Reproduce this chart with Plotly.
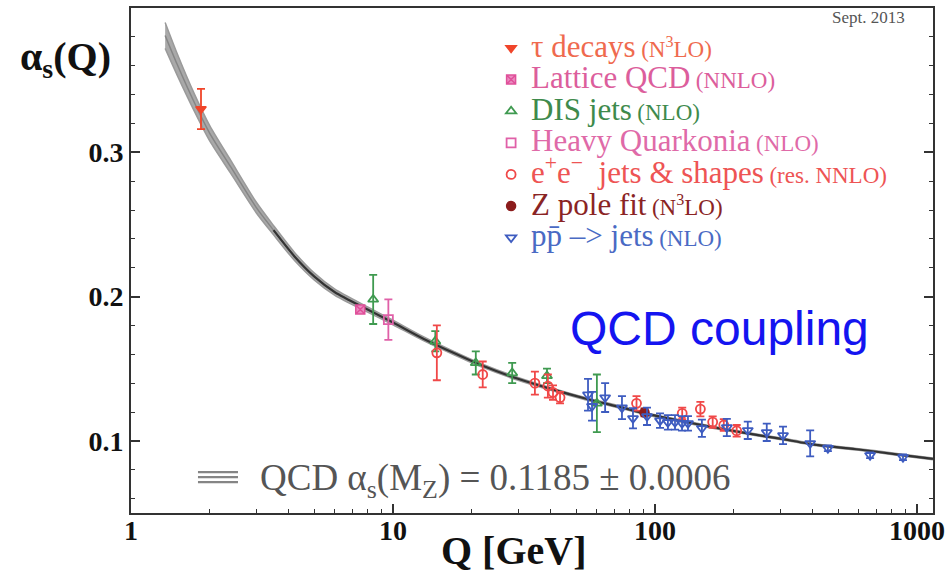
import plotly.graph_objects as go

# QCD running coupling: centre line and the edges of its uncertainty band
curve_q = [1.35, 1.5, 1.75, 2.0, 2.4, 3.0, 3.5, 4.2, 5.0, 6.0, 8.0, 10, 13, 17, 22, 30,
           40, 55, 75, 91.2, 120, 160, 220, 300, 420, 600, 850, 1150]
curve_mid = [0.381, 0.361, 0.334, 0.313, 0.290, 0.262, 0.246, 0.228, 0.214, 0.203, 0.191,
             0.182, 0.171, 0.161, 0.152, 0.143, 0.136, 0.129, 0.123, 0.119, 0.1145, 0.110,
             0.1055, 0.1015, 0.0970, 0.0940, 0.0905, 0.0875]
curve_hi = [0.390, 0.3685, 0.340, 0.3183, 0.2945, 0.2657, 0.2492, 0.2308, 0.2164, 0.2051,
            0.1928, 0.1836, 0.1724, 0.1622, 0.1531, 0.1440, 0.1369, 0.1298, 0.1238, 0.1197,
            0.1152, 0.1107, 0.1061, 0.1021, 0.0976, 0.0946, 0.0911, 0.0881]
curve_lo = [0.372, 0.3535, 0.328, 0.3077, 0.2855, 0.2583, 0.2428, 0.2252, 0.2116, 0.2009,
            0.1892, 0.1804, 0.1696, 0.1598, 0.1509, 0.1420, 0.1351, 0.1282, 0.1222, 0.1183,
            0.1138, 0.1093, 0.1049, 0.1009, 0.0964, 0.0934, 0.0899, 0.0869]

# measurements: scale Q [GeV], alpha_s and its uncertainty
tau_q = [1.85]
tau_a = [0.330]
tau_e = [0.014]

lat_q = [7.5]
lat_a = [0.191]
lat_e = [0.002]

dis_q = [8.4, 14.5, 20.7, 28.5, 38.7, 60.0]
dis_a = [0.198, 0.169, 0.154, 0.147, 0.145, 0.126]
dis_e = [0.017, 0.007, 0.008, 0.007, 0.005, 0.020]

hq_q = [9.6]
hq_a = [0.184]
hq_e = [0.014]

ee_q = [14.7, 22.0, 34.8, 39.0, 40.8, 43.4, 85, 127, 149, 166, 183, 205]
ee_a = [0.161, 0.146, 0.140, 0.138, 0.1335, 0.130, 0.126, 0.119, 0.122, 0.113, 0.111, 0.107]
ee_e = [0.019, 0.009, 0.008, 0.008, 0.005, 0.004, 0.005, 0.004, 0.005, 0.004, 0.004, 0.004]

zp_q = [91.2]
zp_a = [0.1197]
zp_e = [0.0028]

pp_q = [55.5, 57.5, 64.5, 74.8, 82.4, 93.2, 104.5, 112, 119.2, 126.8, 133.6, 151, 188,
        226, 267, 308, 391, 457, 662, 884]
pp_a = [0.132, 0.124, 0.130, 0.123, 0.1156, 0.117, 0.114, 0.1128, 0.1128, 0.1121, 0.1121,
        0.1087, 0.1093, 0.1073, 0.1059, 0.1038, 0.0983, 0.0949, 0.0900, 0.0886]
pp_e = [0.011, 0.010, 0.010, 0.008, 0.007, 0.006, 0.005, 0.005, 0.005, 0.005, 0.005,
        0.006, 0.006, 0.006, 0.006, 0.006, 0.009, 0.002, 0.002, 0.002]

x_ticks = [1, 10, 100, 1000]
x_tick_text = ["1", "10", "100", "1000"]
y_ticks = [0.1, 0.2, 0.3]
y_tick_text = ["0.1", "0.2", "0.3"]

SERIF = "Liberation Serif, Times New Roman, DejaVu Serif, serif"

fig = go.Figure()

# uncertainty band
band_line = dict(color="#9a9a9a", width=1.5, shape="spline", smoothing=0.7)
fig.add_trace(go.Scatter(x=curve_q, y=curve_hi, mode="lines", line=band_line,
                         showlegend=False, hoverinfo="skip"))
fig.add_trace(go.Scatter(x=curve_q, y=curve_lo, mode="lines", line=band_line,
                         fill="tonexty", fillcolor="#a9a9a9", showlegend=False, hoverinfo="skip"))
# hatch-like middle stroke in the wide part of the band
fig.add_trace(go.Scatter(x=curve_q[:9], y=curve_mid[:9], mode="lines",
                         line=dict(color="#858585", width=1.5, shape="spline", smoothing=0.7),
                         showlegend=False, hoverinfo="skip"))
# centre line, drawn dark where the band has narrowed
mid_start = 6
fig.add_trace(go.Scatter(x=curve_q[mid_start:], y=curve_mid[mid_start:], mode="lines",
                         line=dict(color="#333333", width=2.2, shape="spline", smoothing=0.7),
                         showlegend=False, hoverinfo="skip"))


def series(q, a, e, name, symbol, color, filled=False, fill=None, size=9):
    if filled:
        marker = dict(symbol=symbol, size=size, color=fill or color, line=dict(color=color, width=1.5))
    else:
        marker = dict(symbol=symbol, size=size, color=color, line=dict(color=color, width=1.8))
    fig.add_trace(go.Scatter(
        x=q, y=a, mode="markers", name=name, marker=marker,
        error_y=dict(type="data", array=e, visible=True, color=color, thickness=1.8, width=4),
    ))


def label(main, sub, color):
    return (f"<span style='color:{color};font-size:31px'>{main}</span> "
            f"<span style='color:{color};font-size:23px'>{sub}</span>")


series(tau_q, tau_a, tau_e, label("τ decays", "(N<sup>3</sup>LO)", "#ef6a4e"),
       "triangle-down", "#f0452a", filled=True)
series(lat_q, lat_a, lat_e, label("Lattice QCD", "(NNLO)", "#dc5e9c"),
       "square-x", "#e0509a", filled=True, fill="#ea8cc0")
series(dis_q, dis_a, dis_e, label("DIS jets", "(NLO)", "#3e8a4c"),
       "triangle-up-open", "#3f9a50")
series(hq_q, hq_a, hq_e, label("Heavy Quarkonia", "(NLO)", "#df6aa8"),
       "square-open", "#e060a8")
series(ee_q, ee_a, ee_e, label("e<sup>+</sup>e<sup>−</sup>  jets &amp; shapes", "(res. NNLO)", "#ee5454"),
       "circle-open", "#f04848")
series(zp_q, zp_a, zp_e, label("Z pole fit", "(N<sup>3</sup>LO)", "#8a2424"),
       "circle", "#8b1c1c", filled=True)
series(pp_q, pp_a, pp_e, label("pp\u0304 –&gt; jets", "(NLO)", "#4a6ac4"),
       "triangle-down-open", "#3e5cc0")

x_minor = [m * 10 ** d for d in range(3) for m in range(2, 10)]
y_minor = [v / 100 for v in range(6, 40, 2) if v % 10 != 0]

fig.update_layout(
    width=951, height=573,
    margin=dict(l=131, r=18, t=6, b=60),
    paper_bgcolor="white", plot_bgcolor="white",
    font=dict(family=SERIF, color="#111"),
    xaxis=dict(type="log", range=[0, 3.061], tickvals=x_ticks, ticktext=x_tick_text,
               ticks="inside", ticklen=9, tickwidth=1.5, tickcolor="#333",
               minor=dict(tickvals=x_minor, ticks="inside", ticklen=4, tickwidth=1.2, tickcolor="#333"),
               showline=True, linewidth=2, linecolor="#333", mirror=True, showgrid=False, zeroline=False,
               ticklabelstandoff=-9,
               tickfont=dict(family=SERIF, size=28, color="#111", weight="bold")),
    yaxis=dict(range=[0.05, 0.4], tickvals=y_ticks, ticktext=y_tick_text,
               ticks="inside", ticklen=9, tickwidth=1.5, tickcolor="#333",
               minor=dict(tickvals=y_minor, ticks="inside", ticklen=4, tickwidth=1.2, tickcolor="#333"),
               showline=True, linewidth=2, linecolor="#333", mirror="allticks", showgrid=False, zeroline=False,
               ticklabelstandoff=0,
               tickfont=dict(family=SERIF, size=28, color="#111", weight="bold")),
    legend=dict(x=0.449, y=0.962, xanchor="left", yanchor="top", bgcolor="rgba(0,0,0,0)",
                font=dict(family=SERIF, size=22), traceorder="normal"),
    annotations=[
        dict(text="α<sub>s</sub>(Q)", xref="paper", yref="paper", x=-0.082, y=0.899,
             xanchor="center", yanchor="middle",
             showarrow=False, font=dict(family=SERIF, size=40, color="#111", weight="bold")),
        dict(text="Q [GeV]", xref="paper", yref="paper", x=0.478, y=-0.075,
             xanchor="center", yanchor="middle",
             showarrow=False, font=dict(family=SERIF, size=40, color="#111", weight="bold")),
        dict(text="Sept. 2013", xref="paper", yref="paper", x=0.9676, y=0.982,
             xanchor="right", yanchor="middle",
             showarrow=False, font=dict(family=SERIF, size=17, color="#555")),
        dict(text="QCD coupling", xref="paper", yref="paper", x=0.545, y=0.365,
             xanchor="left", yanchor="middle",
             showarrow=False, font=dict(family="Liberation Sans, Arial, sans-serif", size=48, color="#1414f0")),
        dict(text="QCD α<sub>s</sub>(M<sub>Z</sub>) = 0.1185 ± 0.0006", xref="paper", yref="paper",
             x=0.1588, y=0.065, xanchor="left", yanchor="middle",
             showarrow=False, font=dict(family=SERIF, size=37, color="#555")),
    ],
    shapes=[
        dict(type="line", xref="paper", yref="paper", x0=0.0835, x1=0.1334, y0=yy, y1=yy,
             line=dict(color="#858585", width=2.2))
        for yy in (0.0809, 0.0710, 0.0611)
    ],
)

fig.write_html("out.html")
